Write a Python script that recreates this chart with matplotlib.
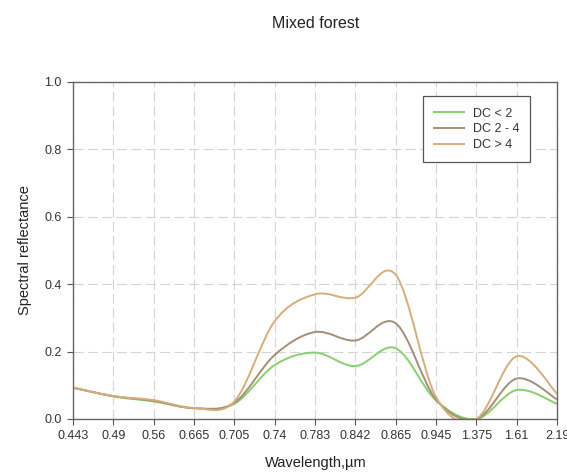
import numpy as np
import matplotlib
matplotlib.use('Agg')
import matplotlib.pyplot as plt
from matplotlib.path import Path
from matplotlib.patches import PathPatch
from matplotlib.lines import Line2D

plt.rcParams['font.family'] = ['Liberation Sans', 'DejaVu Sans']

# ------------------------------------------------------------
# data
# ------------------------------------------------------------
wavelengths = ['0.443', '0.49', '0.56', '0.665', '0.705', '0.74', '0.783',
               '0.842', '0.865', '0.945', '1.375', '1.61', '2.19']

dc_lt2  = [0.093, 0.067, 0.052, 0.032, 0.045, 0.160, 0.197, 0.157, 0.210, 0.055, 0.0, 0.086, 0.045]
dc_2_4  = [0.093, 0.068, 0.054, 0.032, 0.048, 0.190, 0.258, 0.233, 0.284, 0.058, 0.0, 0.120, 0.058]
dc_gt4  = [0.093, 0.068, 0.056, 0.033, 0.052, 0.290, 0.370, 0.360, 0.428, 0.065, 0.0, 0.186, 0.075]

labels = ['DC < 2', 'DC 2 - 4', 'DC > 4']
colors = ['#86d070', '#a48e76', '#d8ac7a']


def smooth_path(x, y):
    # Catmull-Rom through the points, written as cubic bezier segments
    x = np.asarray(x, float)
    y = np.asarray(y, float)
    pts = np.column_stack([x, y])
    ext = np.vstack([pts[0], pts, pts[-1]])
    verts = [pts[0]]
    codes = [Path.MOVETO]
    for i in range(len(pts) - 1):
        p0, p1, p2, p3 = ext[i], ext[i + 1], ext[i + 2], ext[i + 3]
        c1 = p1 + (p2 - p0) / 6.0
        c2 = p2 - (p3 - p1) / 6.0
        verts += [c1, c2, p2]
        codes += [Path.CURVE4] * 3
    return Path(verts, codes)


fig = plt.figure(figsize=(5.67, 4.72), dpi=100)
ax = fig.add_axes([0.1287, 0.1123, 0.8537, 0.714])

xpos = np.arange(len(wavelengths))
handles = []
for vals, lab, col in zip([dc_lt2, dc_2_4, dc_gt4], labels, colors):
    patch = PathPatch(smooth_path(xpos, vals), facecolor='none',
                      edgecolor=col, linewidth=1.4)
    ax.add_patch(patch)
    handles.append(Line2D([], [], color=col, linewidth=1.4, label=lab))

ax.set_xlim(0, len(wavelengths) - 1)
ax.set_ylim(0, 1.0)
ax.set_xticks(xpos)
ax.set_xticklabels(wavelengths)
ax.set_yticks([0.0, 0.2, 0.4, 0.6, 0.8, 1.0])
ax.set_yticklabels(['0.0', '0.2', '0.4', '0.6', '0.8', '1.0'])
ax.tick_params(axis='both', labelsize=9, colors='#555555', labelcolor='#333333',
               length=4, width=0.8, direction='out', pad=4)

ax.grid(True, color='#d4d4d4', linestyle=(0, (9, 4)), linewidth=0.8)
ax.set_axisbelow(True)
for s in ax.spines.values():
    s.set_color('#666666')
    s.set_linewidth(1.0)

fig.text(0.557, 0.951, 'Mixed forest', ha='center', va='center',
         fontsize=11.5, color='#222222')
fig.text(0.557, 0.02, 'Wavelength,\u00b5m', ha='center', va='center',
         fontsize=10.5, color='#222222')
fig.text(0.044, 0.47, 'Spectral reflectance', ha='center', va='center',
         rotation=90, fontsize=10.5, color='#222222')

leg = ax.legend(handles=handles, loc='upper right',
                bbox_to_anchor=(0.958, 0.976), fontsize=9,
                fancybox=False, framealpha=1, edgecolor='#555555',
                handlelength=2.4, handletextpad=0.7, borderpad=0.9,
                labelspacing=0.3)
leg.get_frame().set_linewidth(0.9)
for t in leg.get_texts():
    t.set_color('#333333')

plt.savefig('out.png', dpi=100)
